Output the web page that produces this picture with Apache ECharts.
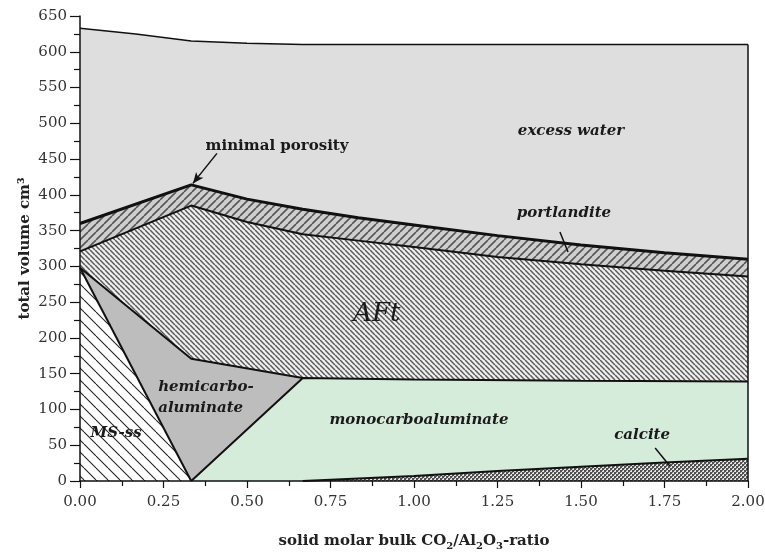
<!DOCTYPE html>
<html>
<head>
<meta charset="utf-8">
<script src="https://cdn.jsdelivr.net/npm/echarts@6/dist/echarts.min.js"></script>
<style>
html,body{margin:0;padding:0;background:#fff;}
#chart{width:765px;height:553px;}
</style>
</head>
<body>
<div id="chart"></div>
<script>
// ---- data (x = solid molar bulk CO2/Al2O3-ratio, y = total volume cm3) ----
const xTicks = [0, 0.25, 0.5, 0.75, 1.0, 1.25, 1.5, 1.75, 2.0];
const yTicks = [0, 50, 100, 150, 200, 250, 300, 350, 400, 450, 500, 550, 600, 650];

const xWater = [0, 0.167, 0.333, 0.5, 0.667, 1.0, 1.25, 1.5, 1.75, 2.0];
const excessWaterTop = [633, 625, 615, 612, 610, 610, 610, 610, 610, 610];

const xUpper = [0, 0.333, 0.5, 0.667, 0.833, 1.0, 1.25, 1.5, 1.75, 2.0];
const portlanditeTop = [360, 414, 394, 380, 368, 358, 343, 330, 319, 310];
const aftTop = [321, 385, 362, 345, 336, 327, 313, 303, 294, 286];

const xHemi = [0, 0.333, 0.667];
const hemiTop = [298, 171, 144];

const xMono = [0.333, 0.667, 1.0, 1.5, 2.0];
const monoTop = [0, 144, 142, 140, 139];

const xMS = [0, 0.333];
const msTop = [298, 0];

const xCalcite = [0.667, 1.0, 1.25, 1.5, 1.75, 2.0];
const calciteTop = [0, 7, 14, 20, 26, 31];

const xEdge = [2.0, 2.0];
const edgeY = [0, 610];

// annotation anchors (data coords)
const labels = [
  {text: 'minimal porosity', x: 0.59, y: 468, style: 'normal', size: 15},
  {text: 'excess water', x: 1.47, y: 489, style: 'italic', size: 15},
  {text: 'portlandite', x: 1.449, y: 375, style: 'italic', size: 15},
  {text: 'AFt', x: 0.889, y: 233, style: 'italic', size: 26, weight: 'normal'},
  {text: 'hemicarbo-\naluminate', x: 0.234, y: 116, style: 'italic', size: 15, align: 'left'},
  {text: 'monocarboaluminate', x: 1.015, y: 85, style: 'italic', size: 15},
  {text: 'MS-ss', x: 0.108, y: 67, style: 'italic', size: 15},
  {text: 'calcite', x: 1.683, y: 64, style: 'italic', size: 15}
];
const arrowFrom = [0.41, 458], arrowTo = [0.338, 416];
const portLeaderFrom = [1.437, 348], portLeaderTo = [1.461, 320];
const calLeaderFrom = [1.722, 46], calLeaderTo = [1.766, 21];

// ---- patterns ----
function hatch(size, dir, bg, fg, lw) {
  const c = document.createElement('canvas');
  c.width = size; c.height = size;
  const g = c.getContext('2d');
  g.fillStyle = bg; g.fillRect(0, 0, size, size);
  g.strokeStyle = fg; g.lineWidth = lw;
  for (let k = -1; k <= 1; k++) {
    g.beginPath();
    if (dir === '\\') { g.moveTo(k * size, 0); g.lineTo(k * size + size, size); }
    else { g.moveTo(k * size, size); g.lineTo(k * size + size, 0); }
    g.stroke();
  }
  return {image: c, repeat: 'repeat'};
}
function dots() {
  const c = document.createElement('canvas');
  c.width = 4; c.height = 4;
  const g = c.getContext('2d');
  g.fillStyle = '#505050'; g.fillRect(0, 0, 4, 4);
  g.fillStyle = '#e4e4e4';
  g.fillRect(0, 0, 2, 2); g.fillRect(2, 2, 2, 2);
  g.fillStyle = '#7a7a7a';
  g.fillRect(0, 0, 1, 1); g.fillRect(2, 2, 1, 1);
  return {image: c, repeat: 'repeat'};
}

const SERIF = 'DejaVu Serif';
const zip = (xs, ys) => xs.map((x, i) => [x, ys[i]]);

function area(name, xs, ys, fill, lw) {
  return {
    name, type: 'line', data: zip(xs, ys), symbol: 'none', silent: true,
    lineStyle: {color: '#111', width: lw},
    areaStyle: {color: fill, opacity: 1},
    animation: false
  };
}

const chart = echarts.init(document.getElementById('chart'), null, {renderer: 'canvas'});

const series = [
  area('excess water', xWater, excessWaterTop, '#dedede', 1.5),
  area('portlandite', xUpper, portlanditeTop, hatch(8, '/', '#cfcfcf', '#555', 1.6), 3),
  area('AFt', xUpper, aftTop, hatch(5, '\\', '#f0f0f0', '#5a5a5a', 1.5), 2),
  area('hemicarboaluminate', xHemi, hemiTop, '#bdbdbd', 2),
  area('monocarboaluminate', xMono, monoTop, '#d5ecda', 2),
  area('MS-ss', xMS, msTop, hatch(12, '\\', '#ffffff', '#222', 1.1), 2),
  area('calcite', xCalcite, calciteTop, dots(), 2),
  {
    name: 'edge', type: 'line', data: zip(xEdge, edgeY), symbol: 'none', silent: true,
    lineStyle: {color: '#111', width: 1.5}, animation: false,
    markLine: {
      silent: true, animation: false,
      label: {show: false},
      lineStyle: {color: '#111', width: 1.5, type: 'solid'},
      symbol: ['none', 'none'],
      data: [
        [{coord: arrowFrom, symbol: 'none'}, {coord: arrowTo, symbol: 'arrow', symbolSize: [7, 11]}],
        [{coord: portLeaderFrom}, {coord: portLeaderTo}],
        [{coord: calLeaderFrom}, {coord: calLeaderTo}]
      ]
    }
  }
];

const axisLabelStyle = {color: '#333', fontFamily: SERIF, fontSize: 15};

chart.setOption({
  animation: false,
  backgroundColor: '#fff',
  grid: {left: 80, right: 17, top: 16, bottom: 72, containLabel: false, outerBoundsMode: 'none'},
  xAxis: {
    type: 'value', min: 0, max: 2, interval: 0.25, z: 10,
    name: '{b|solid molar bulk CO}{s|2}{b|/Al}{s|2}{b|O}{s|3}{b|-ratio}',
    nameLocation: 'middle', nameGap: 50, nameMoveOverlap: false,
    nameTextStyle: {
      rich: {
        b: {fontFamily: SERIF, fontWeight: 'bold', fontSize: 15, color: '#222', lineHeight: 20, verticalAlign: 'middle'},
        s: {fontFamily: SERIF, fontWeight: 'bold', fontSize: 10, color: '#222', lineHeight: 20, verticalAlign: 'bottom', padding: [6, 0, 0, 0]}
      }
    },
    axisLine: {show: true, onZero: false, lineStyle: {color: '#111', width: 1.5}},
    axisTick: {show: true, inside: false, length: 7, lineStyle: {color: '#111', width: 1.2}},
    minorTick: {show: true, splitNumber: 2, length: 5, lineStyle: {color: '#111', width: 1.2}},
    axisLabel: Object.assign({margin: 14, formatter: v => v.toFixed(2)}, axisLabelStyle),
    splitLine: {show: false}
  },
  yAxis: {
    type: 'value', min: 0, max: 650, interval: 50, z: 10,
    name: 'total volume cm³', nameLocation: 'middle', nameRotate: 90, nameGap: 47, nameMoveOverlap: false,
    nameTextStyle: {fontFamily: SERIF, fontWeight: 'bold', fontSize: 15, color: '#222'},
    axisLine: {show: true, onZero: false, lineStyle: {color: '#111', width: 1.5}},
    axisTick: {show: true, inside: false, length: 10, lineStyle: {color: '#111', width: 1.2}},
    minorTick: {show: true, splitNumber: 2, length: 6, lineStyle: {color: '#111', width: 1.2}},
    axisLabel: Object.assign({margin: 13}, axisLabelStyle),
    splitLine: {show: false}
  },
  series
});

// annotations positioned through the chart's own coordinate conversion
const graphics = labels.map(l => {
  const p = chart.convertToPixel({gridIndex: 0}, [l.x, l.y]);
  return {
    type: 'text', x: p[0], y: p[1], z: 100, silent: true,
    style: {
      text: l.text, fill: '#1a1a1a',
      font: (l.style === 'italic' ? 'italic ' : '') + (l.weight || 'bold') + ' ' + l.size + 'px "' + SERIF + '"',
      align: l.align || 'center', verticalAlign: 'middle', lineHeight: 21
    }
  };
});
chart.setOption({graphic: graphics});
</script>
</body>
</html>
